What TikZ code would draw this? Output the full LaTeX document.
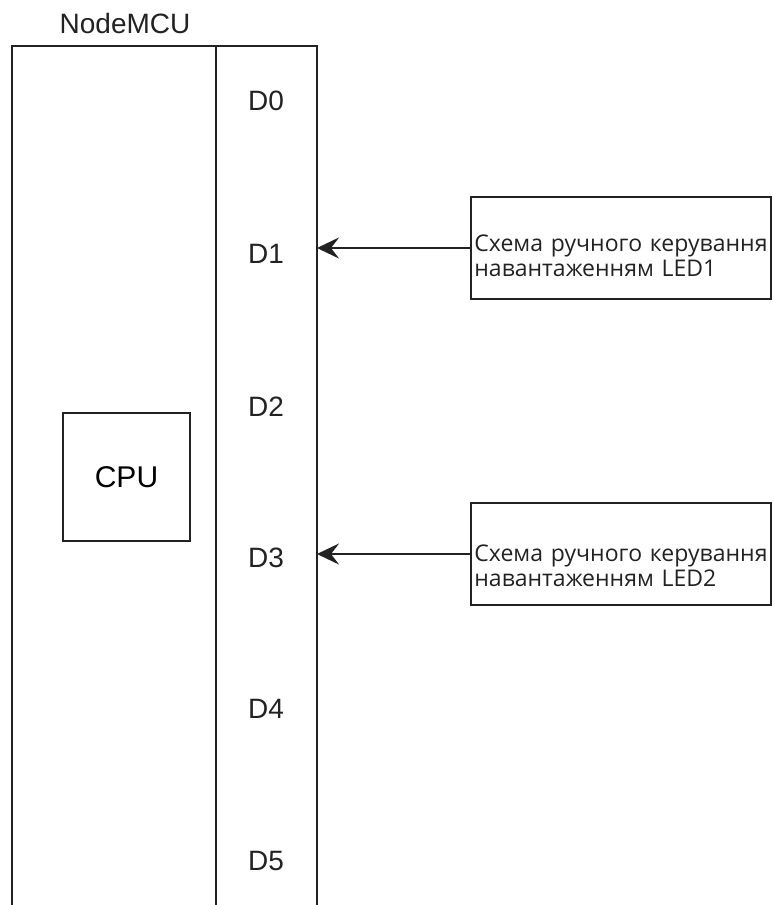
\documentclass[tikz,border=0pt]{standalone}
\usepackage{fontspec}
\setmainfont{Liberation Sans}
\newfontfamily\boxfont{Open Sans}
\usetikzlibrary{arrows.meta,positioning,calc}
\definecolor{ink}{HTML}{222222}
\tikzset{
  frame/.style={draw=ink,line width=1.2pt,outer sep=0pt,inner sep=0pt},
  pinlbl/.style={font=\fontsize{14}{16}\selectfont,anchor=base,text=ink},
  ledbox/.style={frame,minimum width=150pt,minimum height=51pt},
  ledtext/.style={font=\boxfont\fontsize{11.5}{12.5}\selectfont,align=left,text width=170pt,inner sep=0pt,text=ink,anchor=west},
  arr/.style={-{Stealth[length=11pt,width=10.5pt,inset=4pt]},line width=1.2pt,color=ink},
}

\begin{document}
\begin{tikzpicture}[x=0.5pt,y=-0.5pt]
\useasboundingbox (0,0) rectangle (773,905);
% board and pin column (open at the bottom of the page)
\node[frame,anchor=north west,minimum width=152.5pt,minimum height=440pt] (board) at (12,46) {};
\node[frame,anchor=north west,minimum width=50.5pt,minimum height=440pt] (pins) at (216,46) {};
\node[font=\fontsize{14}{16}\selectfont,anchor=base,text=ink] (title) at (125,33) {NodeMCU};
\node[frame,minimum width=63.5pt,minimum height=64pt,font=\fontsize{15}{18}\selectfont] (cpu) at (126.5,477) {CPU};
\foreach \i/\y in {0/110,1/263,2/416,3/567,4/718,5/870}
  \node[pinlbl] (d\i) at (266,\y) {D\i};
% manual load control circuits
\node[ledbox] (led1) at (621,248) {};
\node[ledtext] (t1) at ($(led1.west)+(3,8)$) {Схема ручного керування\\навантаженням LED1};
\node[ledbox] (led2) at (621,554) {};
\node[ledtext] (t2) at ($(led2.west)+(3,12)$) {Схема ручного керування\\навантаженням LED2};
\draw[arr] (led1.west) -- (led1.west -| pins.east);
\draw[arr] (led2.west) -- (led2.west -| pins.east);
\end{tikzpicture}
\end{document}
